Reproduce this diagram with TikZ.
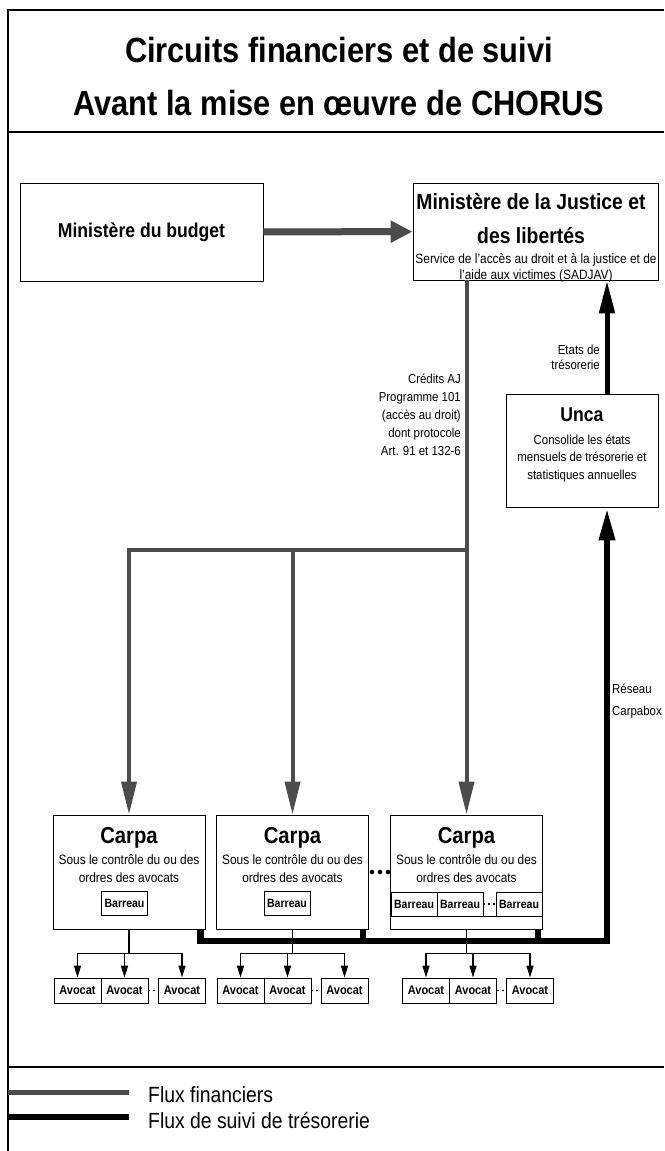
\documentclass[tikz,border=0pt]{standalone}
\usepackage{fontspec}
\setmainfont{Liberation Sans}[FakeStretch=0.88]
\usepackage{tikz}
\usetikzlibrary{arrows.meta,calc,positioning}
\definecolor{fluxfin}{gray}{0.3}
\tikzset{%
	frame/.style    = {draw, line width=1.3pt},
	box/.style      = {draw, rectangle, fill=white, line width=0.9pt, inner sep=0pt},
	carpa/.style    = {box, minimum width=152pt, minimum height=114pt},
	barreau/.style  = {box, minimum width=46pt, minimum height=24pt, font=\bfseries\fontsize{12pt}{14pt}\selectfont},
	avocat/.style   = {box, minimum width=47pt, minimum height=25pt, font=\bfseries\fontsize{12.5pt}{14pt}\selectfont},
	txt/.style      = {inner sep=0pt, align=center},
	titre/.style    = {txt, font=\bfseries\fontsize{35pt}{40pt}\selectfont},
	carpat/.style   = {txt, font=\bfseries\fontsize{23pt}{26pt}\selectfont},
	carpad/.style   = {txt, font=\fontsize{13.5pt}{18pt}\selectfont},
	lbl/.style      = {inner sep=0pt, font=\fontsize{13pt}{18pt}\selectfont},
	leg/.style      = {inner sep=0pt, font=\fontsize{22pt}{24pt}\selectfont},
}
\tikzset{%
	fin/.style      = {draw=fluxfin, line width=4pt},
	finarrow/.style = {fin, -{Triangle[length=33pt,width=15pt]}},
	budgetarrow/.style = {draw=fluxfin, line width=7pt, -{Triangle[length=22pt,width=21pt]}},
	suivi/.style    = {draw=black, line width=5pt, -{Triangle[length=33pt,width=15pt]}},
	bus/.style      = {draw=black, line width=6.5pt},
	lien/.style     = {draw, line width=1.6pt},
	lienarrow/.style= {lien, -{Triangle[length=12pt,width=7pt]}},
	pointilles/.style = {draw, line width=1.6pt, dash pattern=on 2pt off 3pt},
}
\begin{document}
\begin{tikzpicture}[x=1pt,y=-1pt]
	\useasboundingbox (0,0) rectangle (664,1151);
	% cadre
	\draw[frame] (8,1151) -- (8,10) -- (664,10);
	\draw[frame] (8,132) -- (664,132);
	\draw[frame] (8,1067) -- (664,1067);
	\node[titre] (titre1) at (339,50) {Circuits financiers et de suivi};
	\node[titre] (titre2) at (339,103) {Avant la mise en œuvre de CHORUS};
	
	% ministeres et Unca
	\node[box, minimum width=243pt, minimum height=98pt, font=\bfseries\fontsize{20pt}{24pt}\selectfont] (budget) at (141.5,232) {Ministère du budget};
	\node[box, minimum width=245pt, minimum height=97pt] (justice) at (535.5,231.5) {};
	\node[txt, font=\bfseries\fontsize{22pt}{34pt}\selectfont] (justicet) at (531,219) {Ministère de la Justice et\\des libertés};
	\node[txt, font=\fontsize{13.5pt}{16pt}\selectfont] (sadjav) at (536,267.5) {Service de l'accès au droit et à la justice et de\\l'aide aux victimes (SADJAV)};
	\node[box, minimum width=152pt, minimum height=113pt] (unca) at (582,450.5) {};
	\node[txt, font=\bfseries\fontsize{20pt}{24pt}\selectfont] (uncat) at (582,415) {Unca};
	\node[txt, font=\fontsize{13pt}{17.5pt}\selectfont] (uncad) at (582,458.5) {Consolide les états\\mensuels de trésorerie et\\statistiques annuelles};
	
	% Carpa
	\node[carpa] (carpa1) at (129,872) {};
	\node[carpa] (carpa2) [right of=carpa1, node distance=163.5pt] {};
	\node[carpa] (carpa3) [right of=carpa2, node distance=174pt] {};
	\node[carpat] (carpa1t) at ($(carpa1.north)+(0,23)$) {Carpa};
	\node[carpat] (carpa2t) at ($(carpa2.north)+(0,23)$) {Carpa};
	\node[carpat] (carpa3t) at ($(carpa3.north)+(0,23)$) {Carpa};
	\node[carpad] (carpa1d) at ($(carpa1.north)+(0,54)$) {Sous le contrôle du ou des\\ordres des avocats};
	\node[carpad] (carpa2d) at ($(carpa2.north)+(0,54)$) {Sous le contrôle du ou des\\ordres des avocats};
	\node[carpad] (carpa3d) at ($(carpa3.north)+(0,54)$) {Sous le contrôle du ou des\\ordres des avocats};
	\fill (372,872) circle (2.3pt) (380,872) circle (2.3pt) (388,872) circle (2.3pt);
	
	\node[barreau] (bar1) at ($(carpa1.north)+(-4.5,89)$) {Barreau};
	\node[barreau] (bar2) at ($(carpa2.north)+(-5.5,89)$) {Barreau};
	\node[barreau] (bar31) at ($(carpa3.north)+(-52.5,89.5)$) {Barreau};
	\node[barreau] (bar32) [right of=bar31, node distance=46pt] {Barreau};
	\node[barreau] (bar33) [right of=bar32, node distance=59pt] {Barreau};
	\draw[pointilles] (bar32) -- (bar33);
	\draw[line width=0.9pt] (bar32.south east) -- (bar33.south west);
	
	% avocats
	\node[avocat] (av11) at (77.5,990.5) {Avocat};
	\node[avocat] (av12) [right of=av11, node distance=47pt] {Avocat};
	\node[avocat] (av13) [right of=av12, node distance=57.5pt] {Avocat};
	\node[avocat] (av21) at (240.5,990.5) {Avocat};
	\node[avocat] (av22) [right of=av21, node distance=47pt] {Avocat};
	\node[avocat] (av23) [right of=av22, node distance=57pt] {Avocat};
	\node[avocat] (av31) at (426,990.5) {Avocat};
	\node[avocat] (av32) [right of=av31, node distance=47pt] {Avocat};
	\node[avocat] (av33) [right of=av32, node distance=57pt] {Avocat};
	\draw[pointilles] (av12) -- (av13);
	\draw[pointilles] (av22) -- (av23);
	\draw[pointilles] (av32) -- (av33);
	
	% flux de suivi de tresorerie
	\coordinate (bus) at (607,941);
	\draw[bus, -{Triangle[length=33pt,width=15pt]}] ([xshift=-5pt]carpa1.south east) |- (bus) -- (bus |- unca.south);
	\draw[bus] ([xshift=-6pt]carpa2.south east) -- ++(0,12);
	\draw[bus] ([xshift=-5pt]carpa3.south east) -- ++(0,12);
	\draw[suivi] (bus |- unca.north) -- (bus |- justice.south);
	\node[lbl, anchor=east, align=right, font=\fontsize{13pt}{15pt}\selectfont] (etats) at (600,357) {Etats de\\trésorerie};
	\node[lbl, anchor=west, align=left, font=\fontsize{13pt}{22pt}\selectfont] (reseau) at (612,701) {Réseau\\Carpabox};
	
	% flux financiers
	\coordinate (branch) at (466.5,550);
	\draw[budgetarrow] (budget) -- (justice);
	\draw[finarrow] (carpa3.north |- justice.south) -- (carpa3.north);
	\draw[finarrow] (branch) -| (carpa1.north);
	\draw[finarrow] (branch -| carpa2.north) -- (carpa2.north);
	\node[lbl, anchor=east, align=right] (credits) at (461,415) {Crédits AJ\\Programme 101\\(accès au droit)\\dont protocole\\Art. 91 et 132-6};
	
	% repartition vers les avocats
	\draw[lien] (carpa1.south) -- ++(0,24) coordinate (d1);
	\draw[lien] (carpa2.south) -- ++(0,24) coordinate (d2);
	\draw[lien] (carpa3.south) -- ++(0,24) coordinate (d3);
	\draw[lienarrow] (d1) -| (av11);
	\draw[lienarrow] (d1) -| (av12);
	\draw[lienarrow] (d1) -| (av13);
	\draw[lienarrow] (d2) -| (av21);
	\draw[lienarrow] (d2) -| (av22);
	\draw[lienarrow] (d2) -| (av23);
	\draw[lienarrow] (d3) -| (av31);
	\draw[lienarrow] (d3) -| (av32);
	\draw[lienarrow] (d3) -| (av33);
	
	% legende
	\node[leg, anchor=west] (legfin) at (148,1095) {Flux financiers};
	\node[leg, anchor=west] (legsuivi) at (148,1120) {Flux de suivi de trésorerie};
	\coordinate (l1a) at (8,1092);
	\coordinate (l1b) at (129,1092);
	\coordinate (l2a) at (8,1117);
	\coordinate (l2b) at (129,1117);
	\draw[fin, line width=5pt] (l1a) -- (l1b);
	\draw[bus] (l2a) -- (l2b);
\end{tikzpicture}
\end{document}
